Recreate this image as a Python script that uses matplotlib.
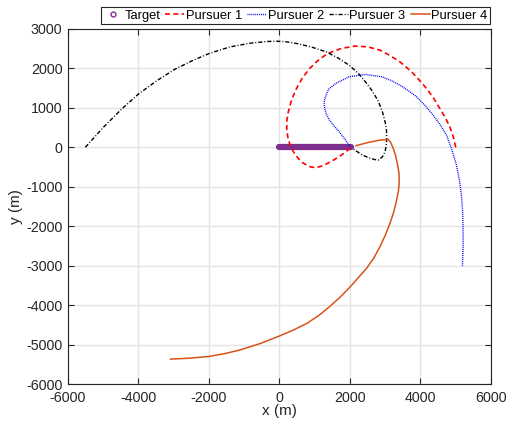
import matplotlib
matplotlib.use("Agg")
import matplotlib.pyplot as plt
from matplotlib.lines import Line2D

plt.rcParams["font.family"] = ["Liberation Sans", "DejaVu Sans"]
plt.rcParams["lines.scale_dashes"] = False
plt.rcParams["axes.unicode_minus"] = False

# Target track (moves along the x axis)
target_x = [0, 2020]
target_y = [0, 0]

# Pursuer trajectories (m)
p1_x = [5000, 4930, 4830, 4700, 4547, 4370, 4170, 3980, 3792, 3600, 3414, 3130, 2849, 2500, 2140,
        1750, 1367, 1100, 856, 650, 484, 340, 251, 210, 205, 235, 298, 400, 530, 640, 763, 900,
        1042, 1200, 1367, 1530, 1693, 1860, 2019]
p1_y = [0, 270, 523, 760, 987, 1250, 1494, 1690, 1873, 2030, 2169, 2330, 2464, 2548, 2568,
        2505, 2380, 2210, 2000, 1760, 1494, 1200, 903, 690, 481, 260, 59, -120, -278, -380, -447, -500,
        -515, -475, -405, -325, -236, -130, -8]

p2_x = [5190, 5210, 5208, 5195, 5160, 5100, 5019, 4890, 4736, 4560, 4358, 4130, 3887, 3650, 3415,
        3150, 2900, 2437, 1972, 1600, 1400, 1321, 1270, 1274, 1320, 1414, 1550, 1693, 1860, 2019]
p2_y = [-3000, -2500, -2050, -1620, -1207, -820, -447, -60, 312, 570, 819, 1060, 1283, 1440, 1578,
        1700, 1790, 1848, 1789, 1620, 1480, 1325, 1180, 1030, 860, 692, 540, 397, 200, 0]

p3_x = [-5509, -4991, -4472, -4000, -3481, -2962, -2443, -1972, -1406, -840, -368, -100, 200, 484,
        900, 1321, 1650, 1972, 2220, 2437, 2640, 2809, 2920, 2995, 3035, 3042, 3030, 2995, 2920,
        2809, 2700, 2577, 2344, 2065]
p3_y = [0, 513, 975, 1353, 1689, 1983, 2210, 2387, 2546, 2639, 2682, 2692, 2675, 2633,
        2545, 2422, 2270, 2084, 1890, 1662, 1420, 1156, 900, 650, 430, 228, 60, -110, -240,
        -321, -310, -278, -194, -25]

p4_x = [-3094, -2550, -2009, -1550, -1113, -550, 0, 400, 774, 1120, 1434, 1730, 2000, 2250, 2472,
        2680, 2849, 3000, 3132, 3240, 3321, 3375, 3396, 3390, 3340, 3290, 3226, 3150, 3080, 2800,
        2530, 2170]
p4_y = [-5370, -5345, -5303, -5230, -5135, -4975, -4783, -4630, -4464, -4260, -4028, -3790, -3542,
        -3290, -3065, -2800, -2520, -2230, -1933, -1640, -1346, -1100, -900, -650, -403, -200, -25,
        130, 205, 175, 127, 42]

labels = ["Target", "Pursuer 1", "Pursuer 2", "Pursuer 3", "Pursuer 4"]

purple = (0.494, 0.184, 0.556)
orange = (0.85, 0.325, 0.098)
axis_col = "#262626"

fig = plt.figure(figsize=(5.10, 4.29), dpi=100)
ax = fig.add_axes([68 / 510, 1 - 384 / 429, (491 - 68) / 510, (384 - 29) / 429])

ax.plot(target_x, target_y, color=purple, lw=4.5, solid_capstyle="round", zorder=2)
l1, = ax.plot(p1_x, p1_y, color="red", lw=1.2, dashes=[3.6, 2.4], zorder=3)
l2, = ax.plot(p2_x, p2_y, color="blue", lw=1.0, dashes=[0.7, 0.7], zorder=3)
l3, = ax.plot(p3_x, p3_y, color="black", lw=1.0, dashes=[3.0, 1.4, 0.7, 1.4], zorder=3)
l4, = ax.plot(p4_x, p4_y, color=orange, lw=1.1, zorder=3)

ax.set_xlim(-6000, 6000)
ax.set_ylim(-6000, 3000)
ax.set_xticks(range(-6000, 6001, 2000))
ax.set_yticks(range(-6000, 3001, 1000))
ax.grid(True, color="#e4e4e4", lw=1.0)
ax.set_axisbelow(True)
ax.tick_params(direction="in", top=True, right=True, length=4, width=0.8,
               labelsize=10.3, colors=axis_col)
ax.tick_params(axis="x", pad=5)
ax.tick_params(axis="y", pad=4)
for s in ax.spines.values():
    s.set_color(axis_col)
    s.set_linewidth(0.8)

ax.set_xlabel("x (m)", fontsize=11, color=axis_col, labelpad=-1)
ax.set_ylabel("y (m)", fontsize=11, color=axis_col, labelpad=2)

target_handle = Line2D([], [], ls="none", marker="o", mfc="none", mec=purple, ms=3.5, mew=1.0)
leg = fig.legend([target_handle, l1, l2, l3, l4], labels, loc="upper right",
                 bbox_to_anchor=(490 / 510, 1 - 7 / 429), ncol=5, fontsize=9.3,
                 handlelength=1.47, handletextpad=0.12, columnspacing=0.39,
                 borderpad=0.2, borderaxespad=0, frameon=True, fancybox=False,
                 edgecolor=axis_col, framealpha=1)
leg.get_frame().set_linewidth(0.8)

fig.savefig("out.png", dpi=100)
